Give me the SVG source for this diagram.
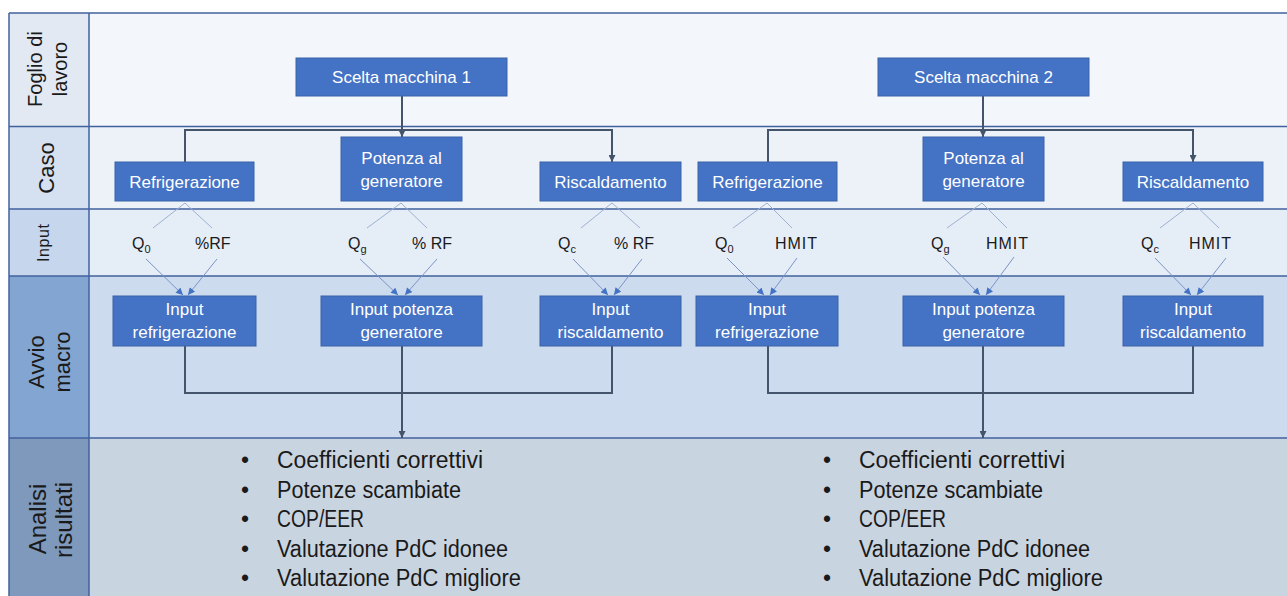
<svg xmlns="http://www.w3.org/2000/svg" width="1287" height="596" viewBox="0 0 1287 596">
<style>
text{font-family:"Liberation Sans",Arial,sans-serif}
.box{fill:#4472c4;stroke:#3a62a8;stroke-width:1}
.bt{fill:#fff;font-size:17px;text-anchor:middle}
.lbl{fill:#1a1a1a;text-anchor:middle}
.in{fill:#1a1a1a;font-size:16px}
.sub{font-size:11px}
.dk{fill:none;stroke:#44546a;stroke-width:2}
.th{fill:none;stroke:#9db1d3;stroke-width:1}
.ta{fill:none;stroke:#7a95c6;stroke-width:1}
.bl{fill:#1a1a1a;font-size:23px}
.grid{stroke:#41619e;stroke-width:1.5;fill:none}
</style>
<defs>
<marker id="ad" viewBox="0 0 10 10" refX="10" refY="5" markerWidth="8" markerHeight="7" markerUnits="userSpaceOnUse" orient="auto"><path d="M0,0 L10,5 L0,10 z" fill="#44546a"/></marker>
<marker id="ab" viewBox="0 0 10 10" refX="10" refY="5" markerWidth="8" markerHeight="7" markerUnits="userSpaceOnUse" orient="auto"><path d="M0,0 L10,5 L0,10 z" fill="#4472c4"/></marker>
</defs>
<rect width="1287" height="596" fill="#ffffff"/>
<g id="lanes">
<rect x="9" y="13" width="80" height="113.5" fill="#e3e9f3"/>
<rect x="89" y="13" width="1198" height="113.5" fill="#f3f6fa"/>
<rect x="9" y="126.5" width="80" height="82.5" fill="#d5e0f0"/>
<rect x="89" y="126.5" width="1198" height="82.5" fill="#edf2f9"/>
<rect x="9" y="209" width="80" height="67" fill="#c6d7ed"/>
<rect x="89" y="209" width="1198" height="67" fill="#e5edf7"/>
<rect x="9" y="276" width="80" height="162" fill="#82a5d1"/>
<rect x="89" y="276" width="1198" height="162" fill="#ccdbed"/>
<rect x="9" y="438" width="80" height="158" fill="#7e99bc"/>
<rect x="89" y="438" width="1198" height="158" fill="#c9d4e1"/>
<path class="grid" d="M9,13 H1287 M9,126.5 H1287 M9,209 H1287 M9,276 H1287 M9,438 H1287 M9,13 V596 M89,13 V596"/>
<text class="lbl" font-size="20" transform="translate(42,69) rotate(-90)" textLength="76">Foglio di</text>
<text class="lbl" font-size="20" transform="translate(67,69) rotate(-90)">lavoro</text>
<text class="lbl" font-size="22" transform="translate(54,168) rotate(-90)">Caso</text>
<text class="lbl" font-size="16" transform="translate(49,243) rotate(-90)" textLength="38">Input</text>
<text class="lbl" font-size="22" transform="translate(44,362) rotate(-90)">Avvio</text>
<text class="lbl" font-size="22" transform="translate(70,362) rotate(-90)">macro</text>
<text class="lbl" font-size="24" transform="translate(46,519) rotate(-90)">Analisi</text>
<text class="lbl" font-size="24" transform="translate(72,520) rotate(-90)">risultati</text>
</g>
<g id="connectors">
<path class="dk" d="M402,96 V137" marker-end="url(#ad)"/>
<path class="dk" d="M185,162 V130 H612 V162" marker-end="url(#ad)" marker-start="url(#ad)"/>
<path class="dk" d="M983,96 V137" marker-end="url(#ad)"/>
<path class="dk" d="M768,162 V130 H1193 V162" marker-end="url(#ad)" marker-start="url(#ad)"/>
<path class="dk" d="M185,346 V393 H612 V346"/>
<path class="dk" d="M402,346 V438" marker-end="url(#ad)"/>
<path class="dk" d="M768,346 V393 H1193 V346"/>
<path class="dk" d="M983,346 V438" marker-end="url(#ad)"/>
<path class="th" d="M153,228 L185,203 L212,228"/>
<path class="th" d="M367,228 L401,203 L427,228"/>
<path class="th" d="M581,228 L612,203 L640,228"/>
<path class="th" d="M733,228 L767,203 L792,228"/>
<path class="th" d="M947,228 L982,203 L1007,228"/>
<path class="th" d="M1160,228 L1193,203 L1219,228"/>
<path class="ta" d="M146,259 L183,295" marker-end="url(#ab)"/>
<path class="ta" d="M217,259 L188,295" marker-end="url(#ab)"/>
<path class="ta" d="M360,259 L398,295" marker-end="url(#ab)"/>
<path class="ta" d="M437,259 L405,295" marker-end="url(#ab)"/>
<path class="ta" d="M573,259 L608,295" marker-end="url(#ab)"/>
<path class="ta" d="M642,259 L614,295" marker-end="url(#ab)"/>
<path class="ta" d="M727,258 L764,295" marker-end="url(#ab)"/>
<path class="ta" d="M797,258 L770,295" marker-end="url(#ab)"/>
<path class="ta" d="M943,257 L980,295" marker-end="url(#ab)"/>
<path class="ta" d="M1014,257 L986,295" marker-end="url(#ab)"/>
<path class="ta" d="M1155,258 L1191,295" marker-end="url(#ab)"/>
<path class="ta" d="M1226,258 L1197,295" marker-end="url(#ab)"/>
</g>
<g id="scelta1"><rect class="box" x="296" y="58" width="211" height="38"/><text class="bt" x="401.5" y="83">Scelta macchina 1</text></g>
<g id="scelta2"><rect class="box" x="878" y="58" width="211" height="38"/><text class="bt" x="983.5" y="83">Scelta macchina 2</text></g>
<g id="refrig1"><rect class="box" x="115" y="162" width="139" height="39"/><text class="bt" x="184.5" y="187.5">Refrigerazione</text></g>
<g id="potenza1"><rect class="box" x="341" y="137" width="121" height="64"/><text class="bt" x="401.5" y="164">Potenza al</text><text class="bt" x="401.5" y="187">generatore</text></g>
<g id="risc1"><rect class="box" x="540" y="162" width="141" height="39"/><text class="bt" x="610.5" y="187.5">Riscaldamento</text></g>
<g id="refrig2"><rect class="box" x="698" y="162" width="139" height="39"/><text class="bt" x="767.5" y="187.5">Refrigerazione</text></g>
<g id="potenza2"><rect class="box" x="923" y="137" width="121" height="64"/><text class="bt" x="983.5" y="164">Potenza al</text><text class="bt" x="983.5" y="187">generatore</text></g>
<g id="risc2"><rect class="box" x="1123" y="162" width="140" height="39"/><text class="bt" x="1193" y="187.5">Riscaldamento</text></g>
<g id="inputs1">
<text class="in" x="132" y="249">Q<tspan class="sub" dy="4">0</tspan></text>
<text class="in" x="195" y="249">%RF</text>
<text class="in" x="348" y="249">Q<tspan class="sub" dy="4">g</tspan></text>
<text class="in" x="412" y="249">% RF</text>
<text class="in" x="558" y="249">Q<tspan class="sub" dy="4">c</tspan></text>
<text class="in" x="614" y="249">% RF</text>
</g>
<g id="inputs2">
<text class="in" x="715" y="249">Q<tspan class="sub" dy="4">0</tspan></text>
<text class="in" x="775" y="249" textLength="42">HMIT</text>
<text class="in" x="931" y="249">Q<tspan class="sub" dy="4">g</tspan></text>
<text class="in" x="986" y="249" textLength="42">HMIT</text>
<text class="in" x="1141" y="249">Q<tspan class="sub" dy="4">c</tspan></text>
<text class="in" x="1189" y="249" textLength="42">HMIT</text>
</g>
<g id="inrefrig1"><rect class="box" x="113" y="296" width="143" height="50"/><text class="bt" x="184.5" y="315">Input</text><text class="bt" x="184.5" y="338">refrigerazione</text></g>
<g id="inpot1"><rect class="box" x="321" y="296" width="161" height="50"/><text class="bt" x="401.5" y="315">Input potenza</text><text class="bt" x="401.5" y="338">generatore</text></g>
<g id="inrisc1"><rect class="box" x="540" y="296" width="141" height="50"/><text class="bt" x="610.5" y="315">Input</text><text class="bt" x="610.5" y="338">riscaldamento</text></g>
<g id="inrefrig2"><rect class="box" x="696" y="296" width="142" height="50"/><text class="bt" x="767" y="315">Input</text><text class="bt" x="767" y="338">refrigerazione</text></g>
<g id="inpot2"><rect class="box" x="903" y="296" width="161" height="50"/><text class="bt" x="983.5" y="315">Input potenza</text><text class="bt" x="983.5" y="338">generatore</text></g>
<g id="inrisc2"><rect class="box" x="1123" y="296" width="140" height="50"/><text class="bt" x="1193" y="315">Input</text><text class="bt" x="1193" y="338">riscaldamento</text></g>
<g id="risultati1">
<text class="bl" x="241" y="468">•</text><text class="bl" x="277" y="468" textLength="206" lengthAdjust="spacingAndGlyphs">Coefficienti correttivi</text>
<text class="bl" x="241" y="497.5">•</text><text class="bl" x="277" y="497.5" textLength="184" lengthAdjust="spacingAndGlyphs">Potenze scambiate</text>
<text class="bl" x="241" y="527">•</text><text class="bl" x="277" y="527" textLength="87" lengthAdjust="spacingAndGlyphs">COP/EER</text>
<text class="bl" x="241" y="556.5">•</text><text class="bl" x="277" y="556.5" textLength="231" lengthAdjust="spacingAndGlyphs">Valutazione PdC idonee</text>
<text class="bl" x="241" y="586">•</text><text class="bl" x="277" y="586" textLength="244" lengthAdjust="spacingAndGlyphs">Valutazione PdC migliore</text>
</g>
<g id="risultati2">
<text class="bl" x="823" y="468">•</text><text class="bl" x="859" y="468" textLength="206" lengthAdjust="spacingAndGlyphs">Coefficienti correttivi</text>
<text class="bl" x="823" y="497.5">•</text><text class="bl" x="859" y="497.5" textLength="184" lengthAdjust="spacingAndGlyphs">Potenze scambiate</text>
<text class="bl" x="823" y="527">•</text><text class="bl" x="859" y="527" textLength="87" lengthAdjust="spacingAndGlyphs">COP/EER</text>
<text class="bl" x="823" y="556.5">•</text><text class="bl" x="859" y="556.5" textLength="231" lengthAdjust="spacingAndGlyphs">Valutazione PdC idonee</text>
<text class="bl" x="823" y="586">•</text><text class="bl" x="859" y="586" textLength="244" lengthAdjust="spacingAndGlyphs">Valutazione PdC migliore</text>
</g>
</svg>
